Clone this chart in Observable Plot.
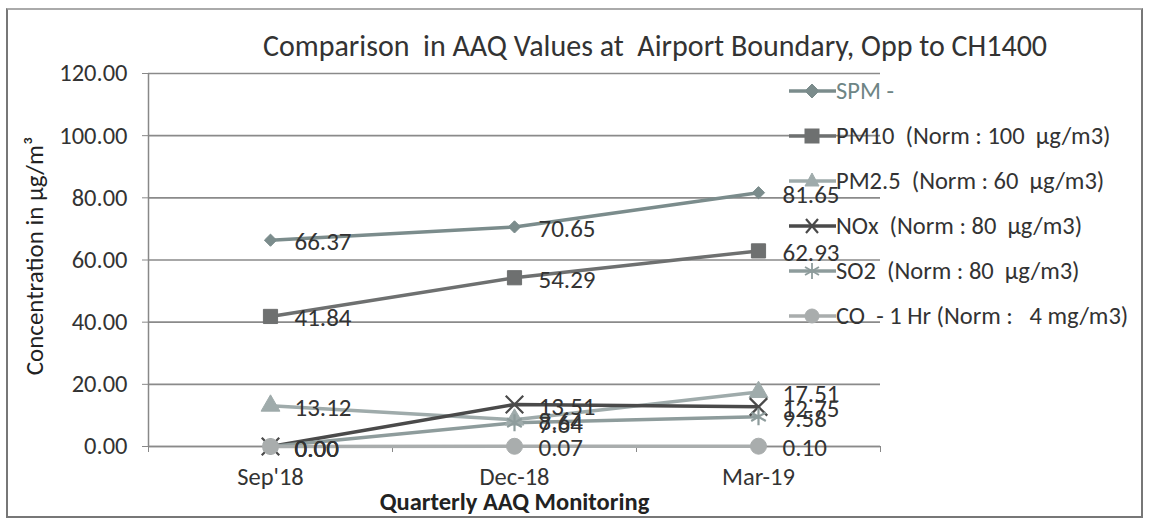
<!DOCTYPE html>
<html>
<head>
<meta charset="utf-8">
<script src="https://cdn.jsdelivr.net/npm/d3@7"></script>
<script src="https://cdn.jsdelivr.net/npm/@observablehq/plot@0.6"></script>
<style>
  html, body { margin: 0; padding: 0; background: #fff; }
  #wrap { position: relative; width: 1149px; height: 519px; overflow: hidden; font-family: Carlito, Lato, sans-serif; }
  #border { position: absolute; left: 6px; top: 8px; width: 1137px; height: 510px; border: 2px solid #777; border-top-color: #aaa; box-sizing: border-box; }
  #title { position: absolute; left: 0; top: 28px; width: 1310px; text-align: center; font-size: 30px; line-height: 36px; color: #333; white-space: pre; }
  #legend { position: absolute; left: 789px; top: 68px; }
  .row { display: flex; align-items: center; height: 45px; font-size: 24.5px; color: #333; white-space: pre; }
  .row svg { display: block; }
  #chart { position: absolute; left: 0; top: 0; }
</style>
</head>
<body>
<div id="wrap">
  <div id="border"></div>
  <div id="chart"></div>
  <div id="title">Comparison  in AAQ Values at  Airport Boundary, Opp to CH1400</div>
  <div id="legend"></div>
</div>
<script>
const categories = ["Sep'18", "Dec-18", "Mar-19"];
const seriesNames = ["SPM -", "PM10  (Norm : 100  µg/m3)", "PM2.5  (Norm : 60  µg/m3)", "NOx  (Norm : 80  µg/m3)", "SO2  (Norm : 80  µg/m3)", "CO  - 1 Hr (Norm :   4 mg/m3)"];
const spm   = [66.37, 70.65, 81.65];
const pm10  = [41.84, 54.29, 62.93];
const pm25  = [13.12, 8.64, 17.51];
const nox   = [0.00, 13.51, 12.75];
const so2   = [0.00, 7.64, 9.58];
const co    = [0.00, 0.07, 0.10];
const yTicks = [0, 20, 40, 60, 80, 100, 120];

const colors  = ["#7b8c8c", "#6e7070", "#9fabab", "#4a4a4a", "#8e9c9c", "#a9adad"];
const symbols = ["diamond2", "square", "triangle", "times", "asterisk", "circle"];
const filled  = [true, true, true, false, false, true];
const sizes   = [5.5, 8, 7, 8, 8, 8];
const allSeries = [spm, pm10, pm25, nox, so2, co];

const rows = [];
allSeries.forEach((vals, s) => vals.forEach((v, i) => rows.push({s, i, v})));

const marks = [
  Plot.gridY(yTicks, {stroke: "#8a8a8a", strokeOpacity: 1, strokeWidth: 1.6}),
  Plot.axisY(yTicks, {tickFormat: d => d.toFixed(2), tickSize: 6, tickPadding: 15, fontSize: 24.5, fill: "#333", stroke: "#888", label: null}),
  Plot.ruleX([-0.5], {stroke: "#888", strokeWidth: 1.5}),
  Plot.ruleY([0], {stroke: "#8a8a8a", strokeWidth: 1.6}),
  Plot.axisX([-0.5, 0.5, 1.5, 2.5], {tickSize: 6, tickFormat: () => "", stroke: "#888", label: null}),
  Plot.axisX([0, 1, 2], {tickSize: 0, tickPadding: 21, tickFormat: i => categories[i], fontSize: 24.5, fill: "#333", label: null}),
];
allSeries.forEach((vals, s) => {
  const data = rows.filter(d => d.s === s);
  marks.push(Plot.line(data, {x: "i", y: "v", stroke: colors[s], strokeWidth: 3.5}));
});
allSeries.forEach((vals, s) => {
  const data = rows.filter(d => d.s === s);
  marks.push(Plot.dot(data, {x: "i", y: "v", symbol: () => symbols[s], r: sizes[s],
    fill: filled[s] ? colors[s] : "none", stroke: colors[s], strokeWidth: filled[s] ? 1 : 2.2}));
});
allSeries.forEach((vals, s) => {
  const data = rows.filter(d => d.s === s);
  marks.push(Plot.text(data, {x: "i", y: "v", text: d => d.v.toFixed(2), textAnchor: "start", dx: 24, dy: 2, fontSize: 25, fill: "#333"}));
});
marks.push(Plot.text(["Quarterly AAQ Monitoring"], {frameAnchor: "bottom", dy: 63, fontSize: 24.5, fontWeight: "bold", fill: "#222"}));
marks.push(Plot.text(["Concentration in µg/m³"], {frameAnchor: "left", textAnchor: "middle", rotate: -90, dx: -114, dy: -4, fontSize: 25, fill: "#222"}));

const chart = Plot.plot({
  width: 1149, height: 519,
  marginLeft: 148, marginRight: 269, marginTop: 73, marginBottom: 73,
  style: {fontFamily: "Carlito, Lato, sans-serif", background: "transparent", overflow: "visible"},
  x: {type: "linear", domain: [-0.5, 2.5], axis: null},
  y: {domain: [0, 120], axis: null},
  marks
});
document.getElementById("chart").appendChild(chart);

// legend
const leg = document.getElementById("legend");
const symPath = {
  diamond2: '<path d="M23 4 L30 11 L23 18 L16 11 Z"/>',
  square: '<rect x="16" y="4" width="14" height="14"/>',
  triangle: '<path d="M23 3 L30 16 L16 16 Z"/>',
  times: '<path d="M17 4 L29 18 M29 4 L17 18" fill="none" stroke-width="2.2"/>',
  asterisk: '<path d="M23 3 L23 19 M16 7 L30 15 M30 7 L16 15" fill="none" stroke-width="1.8"/>',
  circle: '<circle cx="23" cy="11" r="7"/>'
};
seriesNames.forEach((name, s) => {
  const row = document.createElement("div");
  row.className = "row";
  const c = colors[s];
  row.innerHTML = `<svg width="47" height="22"><line x1="0" y1="11" x2="47" y2="11" stroke="${c}" stroke-width="3.5"/><g fill="${filled[s] ? c : 'none'}" stroke="${c}">${symPath[symbols[s]]}</g></svg><span style="color:${s === 0 ? '#6e8585' : '#333'}">${name}</span>`;
  leg.appendChild(row);
});
</script>
</body>
</html>
